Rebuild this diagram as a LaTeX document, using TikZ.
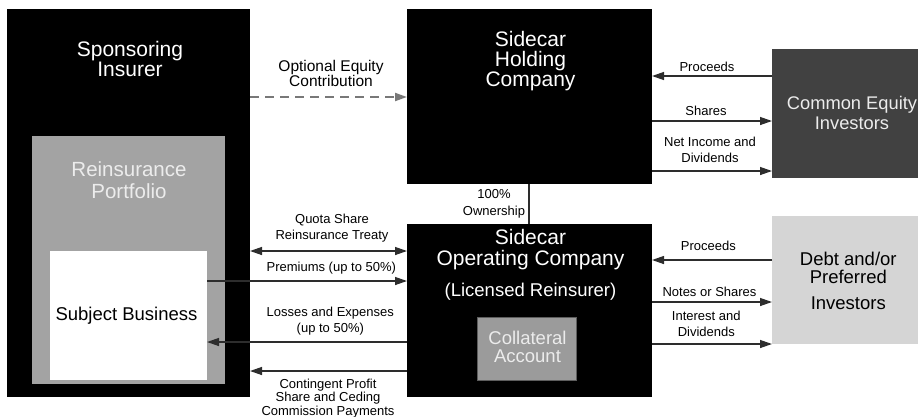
\documentclass[tikz,border=0pt]{standalone}
\usepackage{fontspec}
\setmainfont{Liberation Sans}
\usetikzlibrary{arrows.meta}
\definecolor{portgray}{RGB}{163,163,163}
\definecolor{collgray}{RGB}{155,155,155}
\definecolor{eqgray}{RGB}{65,65,65}
\definecolor{debtgray}{RGB}{213,213,213}
\definecolor{paletext}{RGB}{236,236,236}
\definecolor{linegray}{RGB}{45,45,45}
\definecolor{dashgray}{RGB}{120,120,120}
\begin{document}
\begin{tikzpicture}[x=1pt,y=-1pt,
  block/.style={draw=none, inner sep=0pt, outer sep=0pt, anchor=north west},
  title/.style={align=center, anchor=base, inner sep=0pt, font=\fontsize{21}{20}\selectfont},
  midtitle/.style={align=center, anchor=base, inner sep=0pt, font=\fontsize{18.5}{19}\selectfont},
  lbl/.style={align=center, anchor=base, inner sep=0pt, font=\fontsize{13}{15.5}\selectfont},
  arr/.style={draw=linegray, line width=1.3pt, -{Triangle[length=12pt,width=8pt]}},
  dblarr/.style={draw=linegray, line width=1.3pt, {Triangle[length=12pt,width=8pt]}-{Triangle[length=12pt,width=8pt]}},
  plain/.style={draw=linegray, line width=1.3pt},
]
\useasboundingbox (0,0) rectangle (918,416);

% boxes
\node[block, fill=black,    minimum width=243pt, minimum height=388pt] (spons) at (7,9) {};
\node[block, fill=portgray, minimum width=193pt, minimum height=248pt] (portf) at (32,136) {};
\node[block, fill=white,    minimum width=157pt, minimum height=129pt] (subj)  at (50,251) {};
\node[block, fill=black,    minimum width=245pt, minimum height=175pt] (hold)  at (407,9) {};
\node[block, fill=black,    minimum width=245pt, minimum height=173pt] (oper)  at (407,224) {};
\node[block, fill=collgray, draw=black!40!collgray, line width=0.8pt, minimum width=99pt, minimum height=63pt] (coll) at (477,317) {};
\node[block, fill=eqgray,   minimum width=150pt, minimum height=129pt] (ceq)   at (772,49) {};
\node[block, fill=debtgray, minimum width=150pt, minimum height=128pt] (debt)  at (772,216) {};

% box titles (placed at the baseline of their last line)
\node[title, text=white] (sponsT) at (130,76.7) {Sponsoring\\Insurer};
\node[title, text=paletext, font=\fontsize{20.5}{21.6}\selectfont] (portfT) at (129,198.3) {Reinsurance\\Portfolio};
\node[midtitle] (subjT) at (126.5,320.7) {Subject Business};
\node[title, text=white] (holdT) at (530.5,86.7) {Sidecar\\Holding\\Company};
\node[title, text=white, font=\fontsize{21}{21.7}\selectfont] (operT) at (530.5,296) {Sidecar\\Operating Company\\[8.6pt]{\fontsize{18.5}{20}\selectfont(Licensed Reinsurer)}};
\node[midtitle, text=paletext, font=\fontsize{18.5}{18.7}\selectfont] (collT) at (527.5,362.7) {Collateral\\Account};
\node[midtitle, text=paletext, font=\fontsize{18.3}{20}\selectfont] (ceqT) at (852,129.3) {Common Equity\\Investors};
\node[midtitle, font=\fontsize{18.5}{18.3}\selectfont] (debtT) at (848.3,309.3) {Debt and/or\\Preferred\\[7.7pt]Investors};

% connector levels
\coordinate (yOpt)   at (0,97);
\coordinate (yProcA) at (0,76);
\coordinate (yShr)   at (0,121);
\coordinate (yNet)   at (0,171);
\coordinate (yQuota) at (0,251);
\coordinate (yPrem)  at (0,281);
\coordinate (yLoss)  at (0,342);
\coordinate (yCont)  at (0,371);
\coordinate (yProcB) at (0,260);
\coordinate (yNotes) at (0,302);
\coordinate (yInt)   at (0,344);
\coordinate (xOwn)   at (529,0);

% sponsor <-> holding / operating company
\draw[draw=dashgray, line width=2pt, dash pattern=on 9pt off 6pt, -{Triangle[length=12pt,width=8pt]}]
  (spons.east |- yOpt) -- (hold.west |- yOpt);
\draw[dblarr] (spons.east |- yQuota) -- (oper.west |- yQuota);
\draw[arr] (subj.east |- yPrem) -- (oper.west |- yPrem);
\draw[arr] (oper.west |- yLoss) -- (subj.east |- yLoss);
\draw[arr] (oper.west |- yCont) -- (spons.east |- yCont);

% ownership link
\draw[plain] (hold.south -| xOwn) -- (oper.north -| xOwn);

% investors
\draw[arr] (ceq.west |- yProcA) -- (hold.east |- yProcA);
\draw[arr] (hold.east |- yShr) -- (ceq.west |- yShr);
\draw[arr] (hold.east |- yNet) -- (ceq.west |- yNet);
\draw[arr] (debt.west |- yProcB) -- (oper.east |- yProcB);
\draw[arr] (oper.east |- yNotes) -- (debt.west |- yNotes);
\draw[arr] (oper.east |- yInt) -- (debt.west |- yInt);

% connector labels (placed at the baseline of their last line)
\node[lbl, font=\fontsize{15.5}{14}\selectfont] (optL) at (331,86.7) {Optional Equity\\Contribution};
\node[lbl] (quotaL) at (332,239.3) {Quota Share\\Reinsurance Treaty};
\node[lbl] (premL) at (331.3,271.7) {Premiums (up to 50\%)};
\node[lbl, font=\fontsize{13}{16}\selectfont] (lossL) at (330.3,332.7) {Losses and Expenses\\(up to 50\%)};
\node[lbl, font=\fontsize{13}{13.4}\selectfont] (contL) at (328,415) {Contingent Profit\\Share and Ceding\\Commission Payments};
\node[lbl, font=\fontsize{13}{16.7}\selectfont] (ownL) at (494,215) {100\%\\Ownership};
\node[lbl] (procAL) at (707,71) {Proceeds};
\node[lbl] (shrL) at (706,115) {Shares};
\node[lbl] (netL) at (710,162.3) {Net Income and\\Dividends};
\node[lbl] (procBL) at (708.3,250.7) {Proceeds};
\node[lbl] (notesL) at (709.5,296) {Notes or Shares};
\node[lbl] (intL) at (706.3,336) {Interest and\\Dividends};
\end{tikzpicture}
\end{document}
